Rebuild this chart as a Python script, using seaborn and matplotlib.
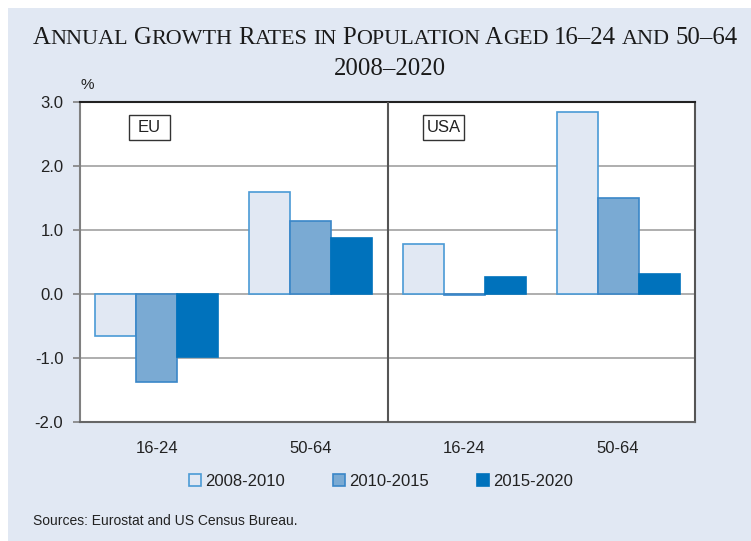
import matplotlib
matplotlib.use("Agg")
import matplotlib.pyplot as plt
from matplotlib.patches import Rectangle, Patch
import seaborn as sns
import pandas as pd

# ---- data ----
regions = ["EU", "USA"]
age_groups = ["16-24", "50-64"]
periods = ["2008-2010", "2010-2015", "2015-2020"]
eu_16_24 = [-0.66, -1.38, -0.99]
eu_50_64 = [1.59, 1.14, 0.88]
usa_16_24 = [0.78, -0.02, 0.26]
usa_50_64 = [2.84, 1.50, 0.31]
y_ticks = [-2.0, -1.0, 0.0, 1.0, 2.0, 3.0]

values = {("EU", "16-24"): eu_16_24, ("EU", "50-64"): eu_50_64,
          ("USA", "16-24"): usa_16_24, ("USA", "50-64"): usa_50_64}
rows = []
for r in regions:
    for a in age_groups:
        for p, v in zip(periods, values[(r, a)]):
            rows.append({"cat": f"{r} {a}", "age": a, "period": p, "value": v})
df = pd.DataFrame(rows)
order = [f"{r} {a}" for r in regions for a in age_groups]

# ---- style ----
BG = "#e1e8f3"
fills = {"2008-2010": "#e1e8f3", "2010-2015": "#7aaad3", "2015-2020": "#0072bc"}
edges = {"2008-2010": "#4a9ad6", "2010-2015": "#3a86c8", "2015-2020": "#0072bc"}
SANS = ["Liberation Sans", "DejaVu Sans"]
SERIF = ["Liberation Serif", "DejaVu Serif"]

sns.set_theme(style="white")
plt.rcParams["font.family"] = SANS

W, H = 751, 541
fig = plt.figure(figsize=(W / 100, H / 100), dpi=100)
fig.patch.set_facecolor("white")
fig.patches.append(Rectangle((8 / W, 0), 1, (H - 8) / H, transform=fig.transFigure,
                             facecolor=BG, edgecolor="none", zorder=-10))

ax_l, ax_r, ax_t, ax_b = 80, 695, 101.7, 422
ax = fig.add_axes([ax_l / W, 1 - ax_b / H, (ax_r - ax_l) / W, (ax_b - ax_t) / H])
ax.set_facecolor("white")

sns.barplot(data=df, x="cat", y="value", hue="period", order=order, hue_order=periods,
            palette=fills, saturation=1, width=0.8, ax=ax, legend=False, zorder=3)
for cont, p in zip(ax.containers, periods):
    for bar in cont:
        bar.set_edgecolor(edges[p])
        bar.set_linewidth(1.2)

ax.set_ylim(-2, 3)
ax.set_xlim(-0.5, 3.5)
ax.set_yticks(y_ticks)
ax.set_yticklabels([f"{t:.1f}" for t in y_ticks], fontsize=12, color="#222222")
ax.set_xticks(range(len(order)))
ax.set_xticklabels([c.split(" ")[1] for c in order], fontsize=12, color="#222222")
ax.tick_params(axis="y", length=5, width=1.2, color="#808080", pad=7, left=True)
ax.tick_params(axis="x", length=0, pad=14)
ax.set_xlabel("")
ax.set_ylabel("")
for t in y_ticks:
    ax.axhline(t, color="#a8a8a8", lw=1.3, zorder=1)
ax.axvline(1.5, color="#555555", lw=1.5, zorder=4)

ax.spines["top"].set_color("#222222")
ax.spines["left"].set_color("#808080")
ax.spines["bottom"].set_color("#666666")
ax.spines["right"].set_color("#555555")
for s in ax.spines.values():
    s.set_linewidth(1.5)
    s.set_visible(True)

# region label boxes
for name, x0, x1 in [("EU", 129, 170), ("USA", 423, 464)]:
    fx0 = (x0 - ax_l) / (ax_r - ax_l)
    fx1 = (x1 - ax_l) / (ax_r - ax_l)
    fy0 = (ax_b - 140) / (ax_b - ax_t)
    fy1 = (ax_b - 115) / (ax_b - ax_t)
    ax.add_patch(Rectangle((fx0, fy0), fx1 - fx0, fy1 - fy0, transform=ax.transAxes,
                           facecolor="white", edgecolor="#333333", lw=1.0, zorder=5))
    ax.text((fx0 + fx1) / 2, (fy0 + fy1) / 2, name, transform=ax.transAxes,
            ha="center", va="center", fontsize=12, color="#222222", zorder=6)

fig.text(87 / W, 1 - 85 / H, "%", ha="center", va="center", fontsize=11, color="#222222")

# legend
handles = [Patch(facecolor=fills[p], edgecolor=edges[p], lw=1.2, label=p) for p in periods]
fig.legend(handles=handles, loc="center", bbox_to_anchor=(381 / W, 1 - 481 / H), ncol=3,
           frameon=False, fontsize=12, handlelength=0.7, handleheight=0.7,
           handletextpad=0.25, columnspacing=2.9, labelcolor="#222222")

fig.text(33 / W, 1 - 521 / H, "Sources: Eurostat and US Census Bureau.", ha="left",
         va="center", fontsize=10, color="#222222")

# small-caps serif title
renderer = fig.canvas.get_renderer()
BIG, SMALL = 17.8, 15.9


def measure(s, size):
    t = fig.text(0, 0, s, fontsize=size, family=SERIF)
    w = t.get_window_extent(renderer).width
    t.remove()
    return w


def smallcaps(text, cx, baseline_y):
    space = measure("I I", SMALL) - measure("II", SMALL)
    pieces = []  # (string, size) or (None, gap)
    for wi, word in enumerate(text.split(" ")):
        if wi > 0:
            pieces.append((None, space))
        cur, cur_size = "", None
        for ch in word:
            size = SMALL if ch.islower() else BIG
            c = ch.upper()
            if size != cur_size and cur:
                pieces.append((cur, cur_size))
                cur = ""
            cur += c
            cur_size = size
        if cur:
            pieces.append((cur, cur_size))
    widths = [p[1] if p[0] is None else measure(p[0], p[1]) for p in pieces]
    x = cx - sum(widths) / 2
    for (s, size), w in zip(pieces, widths):
        if s is not None:
            fig.text(x / W, 1 - baseline_y / H, s, fontsize=size, family=SERIF,
                     ha="left", va="baseline", color="#1a1a1a")
        x += w


smallcaps("Annual Growth Rates in Population Aged 16–24 and 50–64", 385, 44.5)
fig.text(390 / W, 1 - 75 / H, "2008–2020", fontsize=BIG, family=SERIF, ha="center",
         va="baseline", color="#1a1a1a")

fig.savefig("out.png", dpi=100, facecolor=fig.get_facecolor())
